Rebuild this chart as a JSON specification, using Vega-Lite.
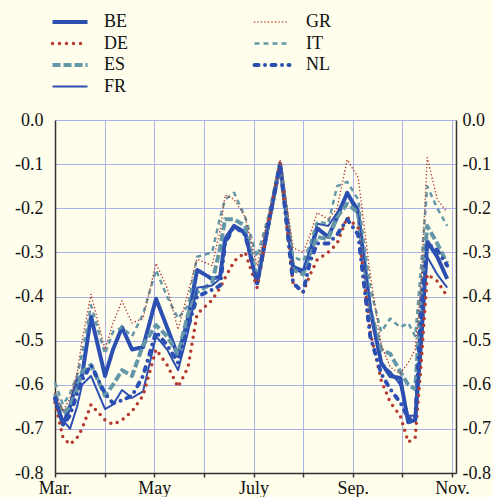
{
  "$schema": "https://vega.github.io/schema/vega-lite/v6.json",
  "width": 401,
  "height": 353,
  "autosize": {"type": "none"},
  "padding": {"left": 55, "top": 120, "right": 37, "bottom": 24},
  "background": "#FFFDEB",
  "config": {"view": {"stroke": null}, "font": "Liberation Serif"},
  "data": {"values": [
    {"t": 0, "BE": -0.63, "DE": -0.64, "ES": -0.62, "FR": -0.63, "GR": -0.62, "IT": -0.595, "NL": -0.63},
    {"t": 0.161, "BE": -0.69, "DE": -0.72, "ES": -0.665, "FR": -0.68, "GR": -0.66, "IT": -0.645, "NL": -0.69},
    {"t": 0.302, "BE": -0.65, "DE": -0.735, "ES": -0.65, "FR": -0.70, "GR": -0.63, "IT": -0.62, "NL": -0.67},
    {"t": 0.444, "BE": -0.59, "DE": -0.72, "ES": -0.61, "FR": -0.65, "GR": -0.575, "IT": -0.58, "NL": -0.62},
    {"t": 0.544, "BE": -0.58, "DE": -0.70, "ES": -0.57, "FR": -0.60, "GR": -0.50, "IT": -0.53, "NL": -0.59},
    {"t": 0.726, "BE": -0.445, "DE": -0.645, "ES": -0.555, "FR": -0.58, "GR": -0.395, "IT": -0.42, "NL": -0.555},
    {"t": 1.008, "BE": -0.58, "DE": -0.68, "ES": -0.625, "FR": -0.655, "GR": -0.52, "IT": -0.53, "NL": -0.62},
    {"t": 1.169, "BE": -0.52, "DE": -0.69, "ES": -0.60, "FR": -0.645, "GR": -0.46, "IT": -0.48, "NL": -0.642},
    {"t": 1.351, "BE": -0.47, "DE": -0.68, "ES": -0.567, "FR": -0.612, "GR": -0.41, "IT": -0.47, "NL": -0.635},
    {"t": 1.552, "BE": -0.52, "DE": -0.66, "ES": -0.58, "FR": -0.63, "GR": -0.46, "IT": -0.49, "NL": -0.625},
    {"t": 1.774, "BE": -0.515, "DE": -0.625, "ES": -0.51, "FR": -0.615, "GR": -0.45, "IT": -0.44, "NL": -0.58},
    {"t": 2.036, "BE": -0.405, "DE": -0.52, "ES": -0.465, "FR": -0.49, "GR": -0.325, "IT": -0.34, "NL": -0.48},
    {"t": 2.258, "BE": -0.47, "DE": -0.555, "ES": -0.49, "FR": -0.52, "GR": -0.38, "IT": -0.40, "NL": -0.51},
    {"t": 2.48, "BE": -0.535, "DE": -0.605, "ES": -0.53, "FR": -0.567, "GR": -0.475, "IT": -0.45, "NL": -0.55},
    {"t": 2.681, "BE": -0.45, "DE": -0.56, "ES": -0.44, "FR": -0.48, "GR": -0.39, "IT": -0.42, "NL": -0.47},
    {"t": 2.863, "BE": -0.34, "DE": -0.44, "ES": -0.39, "FR": -0.38, "GR": -0.315, "IT": -0.31, "NL": -0.40},
    {"t": 3.165, "BE": -0.36, "DE": -0.408, "ES": -0.37, "FR": -0.375, "GR": -0.33, "IT": -0.30, "NL": -0.385},
    {"t": 3.327, "BE": -0.355, "DE": -0.38, "ES": -0.29, "FR": -0.36, "GR": -0.25, "IT": -0.22, "NL": -0.375},
    {"t": 3.427, "BE": -0.27, "DE": -0.358, "ES": -0.225, "FR": -0.28, "GR": -0.17, "IT": -0.18, "NL": -0.28},
    {"t": 3.609, "BE": -0.24, "DE": -0.32, "ES": -0.225, "FR": -0.24, "GR": -0.18, "IT": -0.165, "NL": -0.24},
    {"t": 3.831, "BE": -0.255, "DE": -0.30, "ES": -0.24, "FR": -0.26, "GR": -0.22, "IT": -0.22, "NL": -0.26},
    {"t": 4.073, "BE": -0.37, "DE": -0.38, "ES": -0.36, "FR": -0.37, "GR": -0.33, "IT": -0.31, "NL": -0.37},
    {"t": 4.294, "BE": -0.24, "DE": -0.24, "ES": -0.24, "FR": -0.24, "GR": -0.22, "IT": -0.22, "NL": -0.24},
    {"t": 4.536, "BE": -0.10, "DE": -0.10, "ES": -0.10, "FR": -0.10, "GR": -0.09, "IT": -0.09, "NL": -0.10},
    {"t": 4.798, "BE": -0.335, "DE": -0.37, "ES": -0.34, "FR": -0.33, "GR": -0.29, "IT": -0.31, "NL": -0.37},
    {"t": 5.0, "BE": -0.345, "DE": -0.39, "ES": -0.35, "FR": -0.34, "GR": -0.30, "IT": -0.32, "NL": -0.39},
    {"t": 5.141, "BE": -0.30, "DE": -0.35, "ES": -0.30, "FR": -0.29, "GR": -0.26, "IT": -0.28, "NL": -0.32},
    {"t": 5.282, "BE": -0.245, "DE": -0.317, "ES": -0.265, "FR": -0.235, "GR": -0.21, "IT": -0.23, "NL": -0.28},
    {"t": 5.504, "BE": -0.265, "DE": -0.30, "ES": -0.27, "FR": -0.24, "GR": -0.225, "IT": -0.235, "NL": -0.28},
    {"t": 5.685, "BE": -0.22, "DE": -0.28, "ES": -0.22, "FR": -0.21, "GR": -0.20, "IT": -0.15, "NL": -0.26},
    {"t": 5.887, "BE": -0.165, "DE": -0.22, "ES": -0.19, "FR": -0.165, "GR": -0.09, "IT": -0.14, "NL": -0.225},
    {"t": 6.109, "BE": -0.21, "DE": -0.245, "ES": -0.21, "FR": -0.20, "GR": -0.13, "IT": -0.18, "NL": -0.26},
    {"t": 6.351, "BE": -0.43, "DE": -0.48, "ES": -0.43, "FR": -0.42, "GR": -0.35, "IT": -0.38, "NL": -0.49},
    {"t": 6.573, "BE": -0.55, "DE": -0.59, "ES": -0.52, "FR": -0.555, "GR": -0.51, "IT": -0.48, "NL": -0.575},
    {"t": 6.754, "BE": -0.58, "DE": -0.64, "ES": -0.53, "FR": -0.57, "GR": -0.56, "IT": -0.45, "NL": -0.61},
    {"t": 6.956, "BE": -0.585, "DE": -0.67, "ES": -0.57, "FR": -0.60, "GR": -0.575, "IT": -0.47, "NL": -0.64},
    {"t": 7.117, "BE": -0.685, "DE": -0.73, "ES": -0.60, "FR": -0.67, "GR": -0.55, "IT": -0.46, "NL": -0.675},
    {"t": 7.258, "BE": -0.68, "DE": -0.72, "ES": -0.61, "FR": -0.67, "GR": -0.52, "IT": -0.49, "NL": -0.68},
    {"t": 7.379, "BE": -0.50, "DE": -0.55, "ES": -0.40, "FR": -0.48, "GR": -0.37, "IT": -0.33, "NL": -0.43},
    {"t": 7.5, "BE": -0.275, "DE": -0.35, "ES": -0.24, "FR": -0.31, "GR": -0.085, "IT": -0.15, "NL": -0.28},
    {"t": 7.702, "BE": -0.31, "DE": -0.365, "ES": -0.28, "FR": -0.35, "GR": -0.18, "IT": -0.20, "NL": -0.295},
    {"t": 7.903, "BE": -0.36, "DE": -0.40, "ES": -0.325, "FR": -0.38, "GR": -0.21, "IT": -0.24, "NL": -0.33}
  ]},
  "transform": [{"fold": ["BE", "DE", "ES", "FR", "GR", "IT", "NL"], "as": ["s", "v"]}],
  "layer": [
    {
      "transform": [{"filter": {"field": "s", "oneOf": ["IT", "ES", "FR", "BE"]}}],
      "mark": {"type": "line", "strokeCap": "butt", "strokeJoin": "round"},
      "encoding": {
        "x": {"field": "t", "type": "quantitative",
          "scale": {"domain": [0, 8.08], "nice": false, "zero": false},
          "axis": {"title": null, "values": [0, 1, 2, 3, 4, 5, 6, 7, 8],
            "labelExpr": "datum.value == 0 ? 'Mar.' : datum.value == 2 ? 'May' : datum.value == 4 ? 'July' : datum.value == 6 ? 'Sep.' : datum.value == 8 ? 'Nov.' : ''",
            "grid": true, "gridColor": "#AAB0EA", "gridWidth": 1, "gridOpacity": 1,
            "domainColor": "#333", "domainWidth": 1.5, "tickColor": "#333", "tickSize": 4, "tickWidth": 1.5,
            "labelPadding": 2, "labelFontSize": 18, "labelFont": "Liberation Serif", "labelColor": "#111",
            "labelAngle": 0, "labelOverlap": false, "labelFlush": false}},
        "y": {"field": "v", "type": "quantitative",
          "scale": {"domain": [-0.8, 0], "nice": false, "zero": false},
          "axis": {"title": null, "orient": "left", "values": [-0.8, -0.7, -0.6, -0.5, -0.4, -0.3, -0.2, -0.1, 0],
            "labelExpr": "replace(format(datum.value, '.1f'), '\u2212', '-')",
            "grid": true, "gridColor": "#AAB0EA", "gridWidth": 1, "gridOpacity": 1,
            "domainColor": "#333", "domainWidth": 1.5, "ticks": false,
            "labelPadding": 12, "labelFontSize": 18, "labelFont": "Liberation Serif", "labelColor": "#111"}},
        "color": {"field": "s", "type": "nominal",
          "scale": {"domain": ["BE", "DE", "ES", "FR", "GR", "IT", "NL"],
            "range": ["#2C4FB2", "#B53A2F", "#6497A8", "#2C4FB2", "#B53A2F", "#6497A8", "#2C4FB2"]},
          "legend": {"title": null, "orient": "none", "legendX": 6, "legendY": -107, "direction": "vertical", "columns": 2,
            "symbolType": "M-3,0H3", "symbolSize": 136, "labelOffset": 25, "columnPadding": 118, "rowPadding": 3.5,
            "labelFont": "Liberation Serif", "labelFontSize": 18, "labelColor": "#111",
            "encode": {"symbols": {"update": {
              "strokeWidth": {"signal": "datum.value == 'BE' || datum.value == 'ES' || datum.value == 'NL' ? 4 : datum.value == 'DE' ? 3.5 : datum.value == 'IT' ? 2.5 : datum.value == 'GR' ? 1.6 : 2"},
              "strokeCap": {"signal": "datum.value == 'DE' || datum.value == 'GR' || datum.value == 'NL' ? 'round' : 'butt'"}}}}}},
        "strokeDash": {"field": "s", "type": "nominal",
          "scale": {"domain": ["BE", "DE", "ES", "FR", "GR", "IT", "NL"],
            "range": [[1, 0], [0, 7], [8, 3], [1, 0], [0, 3.5], [5, 4], [4, 6.5, 0, 6.5]]},
          "legend": {"title": null, "orient": "none", "legendX": 6, "legendY": -107, "direction": "vertical", "columns": 2,
            "symbolType": "M-3,0H3", "symbolSize": 136, "labelOffset": 25, "columnPadding": 118, "rowPadding": 3.5,
            "labelFont": "Liberation Serif", "labelFontSize": 18, "labelColor": "#111"}},
        "strokeWidth": {"condition": [
          {"test": "datum.s == 'BE' || datum.s == 'ES' || datum.s == 'NL'", "value": 4},
          {"test": "datum.s == 'DE'", "value": 3.5},
          {"test": "datum.s == 'IT'", "value": 2.5},
          {"test": "datum.s == 'GR'", "value": 1.6}], "value": 2}
      }
    },
    {
      "transform": [{"filter": {"field": "s", "oneOf": ["GR", "DE", "NL"]}}],
      "mark": {"type": "line", "strokeCap": "round", "strokeJoin": "round"},
      "encoding": {
        "x": {"field": "t", "type": "quantitative"},
        "y": {"field": "v", "type": "quantitative", "axis": null},
        "color": {"field": "s", "type": "nominal"},
        "strokeDash": {"field": "s", "type": "nominal"},
        "strokeWidth": {"condition": [
          {"test": "datum.s == 'BE' || datum.s == 'ES' || datum.s == 'NL'", "value": 4},
          {"test": "datum.s == 'DE'", "value": 3.5},
          {"test": "datum.s == 'IT'", "value": 2.5},
          {"test": "datum.s == 'GR'", "value": 1.6}], "value": 2}
      }
    },
    {
      "data": {"values": [{"v": -0.4}]},
      "mark": {"type": "rule", "opacity": 0},
      "encoding": {
        "y": {"field": "v", "type": "quantitative",
          "axis": {"title": null, "orient": "right", "values": [-0.8, -0.7, -0.6, -0.5, -0.4, -0.3, -0.2, -0.1, 0],
            "labelExpr": "replace(format(datum.value, '.1f'), '\u2212', '-')",
            "grid": false, "domainColor": "#333", "domainWidth": 1.5, "ticks": false,
            "labelPadding": 6, "labelFontSize": 18, "labelFont": "Liberation Serif", "labelColor": "#111"}}
      }
    }
  ],
  "resolve": {"axis": {"y": "independent"}}
}
